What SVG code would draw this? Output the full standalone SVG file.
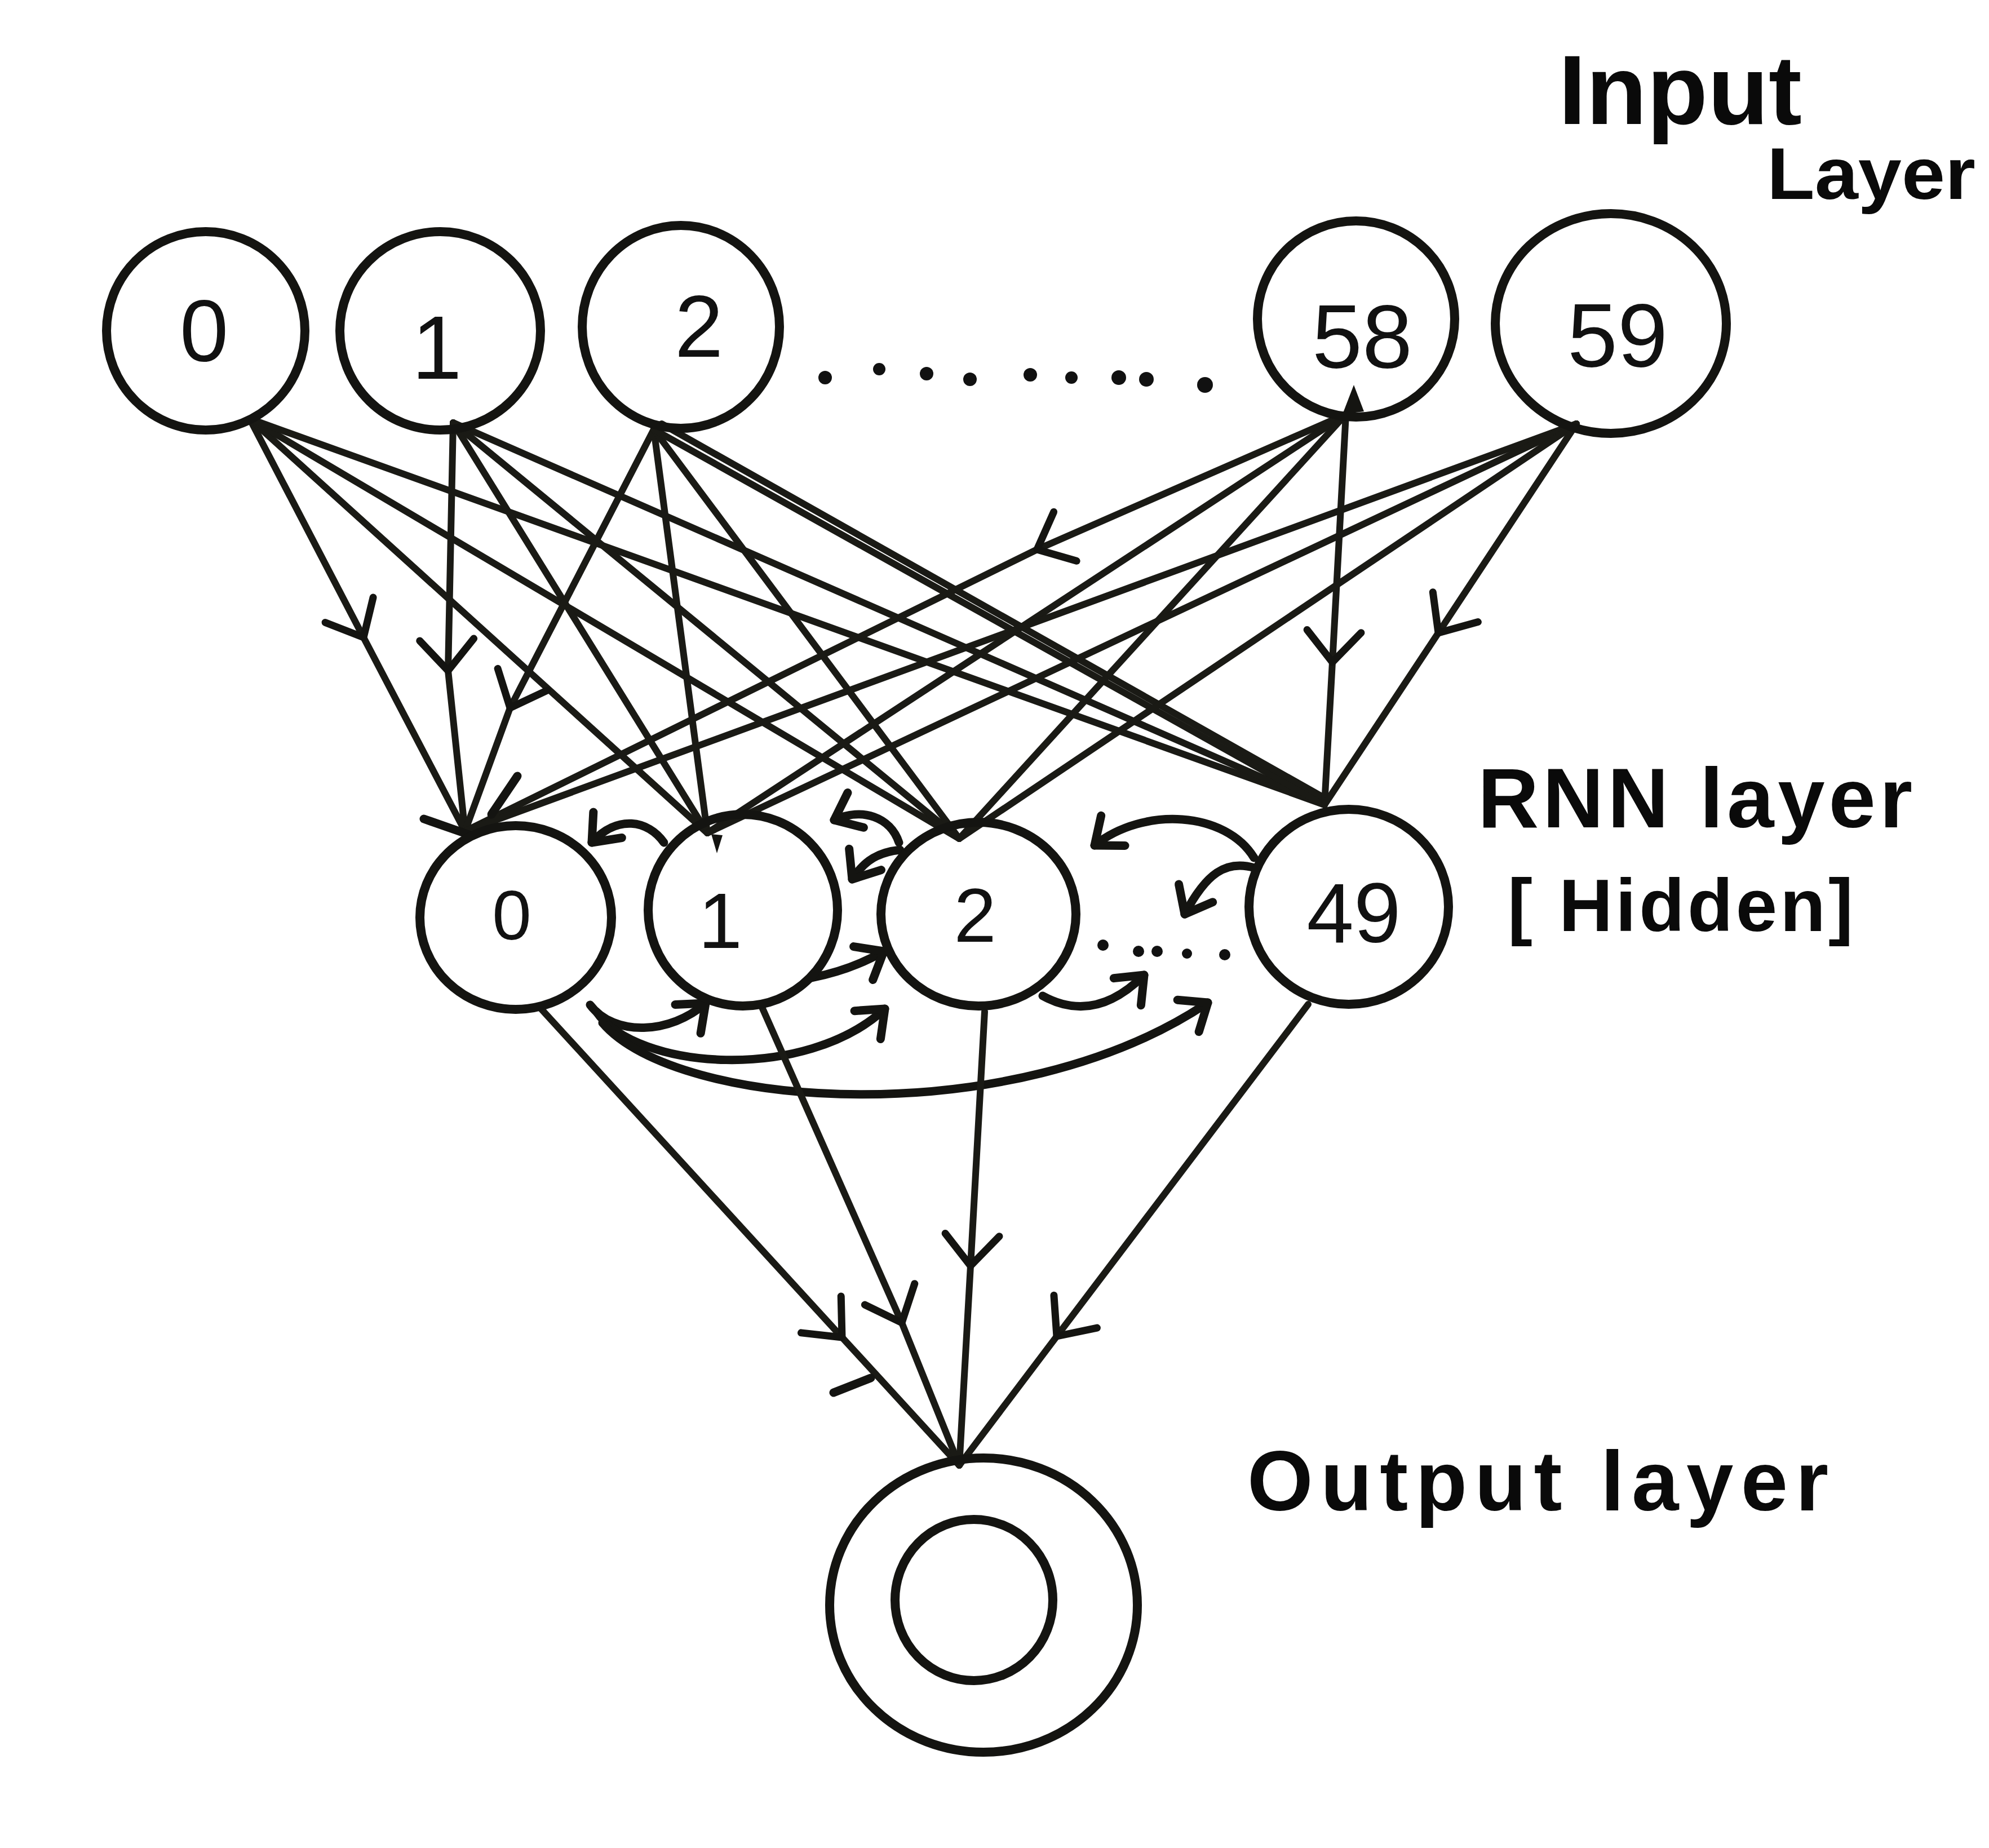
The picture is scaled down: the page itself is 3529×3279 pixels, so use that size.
<svg xmlns="http://www.w3.org/2000/svg" width="3529" height="3279" viewBox="0 0 3529 3279">
<style>
.node{fill:none;stroke:#141411;stroke-width:16}
.ln{fill:none;stroke:#1a1a15;stroke-width:12;stroke-linecap:round;stroke-linejoin:round}
.rec{fill:none;stroke:#141411;stroke-width:15;stroke-linecap:round}
.dig{font-family:"Liberation Sans",Arial,sans-serif;fill:#111;text-anchor:middle}
.lbl{font-family:"Liberation Sans",Arial,sans-serif;fill:#0a0a0a;font-weight:bold}
.dot{fill:#111}
</style>
<defs>
<marker id="chev" markerUnits="userSpaceOnUse" orient="auto" overflow="visible" markerWidth="1" markerHeight="1" refX="0" refY="0">
<path d="M-55,-48 L0,0 L-55,48" fill="none" stroke="#141411" stroke-width="13" stroke-linecap="round" stroke-linejoin="round"/>
</marker>
<marker id="ah" markerUnits="userSpaceOnUse" orient="auto" overflow="visible" markerWidth="1" markerHeight="1" refX="0" refY="0">
<path d="M-42,-34 L0,0 L-42,34" fill="none" stroke="#141411" stroke-width="15" stroke-linecap="round" stroke-linejoin="round"/>
</marker>
</defs>
<rect width="3529" height="3279" fill="#ffffff"/>

<g id="connectors">
<!-- input 0 -->
<polyline class="ln" points="443,743 645,1131 825,1475" marker-mid="url(#chev)"/>
<line class="ln" x1="443" y1="743" x2="1255" y2="1478"/>
<line class="ln" x1="443" y1="743" x2="1702" y2="1488"/>
<line class="ln" x1="443" y1="743" x2="2350" y2="1428"/>
<!-- input 1 -->
<polyline class="ln" points="804,750 795,1190 825,1475" marker-mid="url(#chev)"/>
<line class="ln" x1="804" y1="750" x2="1255" y2="1478"/>
<line class="ln" x1="804" y1="750" x2="1702" y2="1488"/>
<line class="ln" x1="804" y1="750" x2="2350" y2="1428"/>
<!-- input 2 -->
<polyline class="ln" points="1160,762 905,1256 825,1475" marker-mid="url(#chev)"/>
<line class="ln" x1="1160" y1="762" x2="1255" y2="1478"/>
<line class="ln" x1="1160" y1="762" x2="1702" y2="1488"/>
<line class="ln" x1="1160" y1="762" x2="2350" y2="1428"/>
<line class="ln" x1="1174" y1="752" x2="2345" y2="1413"/>
<!-- input 58 -->
<polyline class="ln" points="2388,735 1840,975 825,1475" marker-mid="url(#chev)"/>
<line class="ln" x1="2388" y1="735" x2="1255" y2="1478"/>
<line class="ln" x1="2388" y1="735" x2="1702" y2="1488"/>
<polyline class="ln" points="2388,735 2364,1175 2350,1428" marker-mid="url(#chev)"/>
<path d="M2402,683 L2382,735 L2420,730 Z" fill="#141411"/>
<!-- input 59 -->
<line class="ln" x1="2797" y1="752" x2="825" y2="1475"/>
<line class="ln" x1="2797" y1="752" x2="1255" y2="1478"/>
<line class="ln" x1="2797" y1="752" x2="1702" y2="1488"/>
<polyline class="ln" points="2797,752 2552,1123 2350,1428" marker-mid="url(#chev)"/>
<!-- arrow fragments at hidden 0 / hidden 1 -->
<path class="rec" d="M752,1453 L835,1482"/>
<path class="rec" d="M918,1377 L872,1445"/>
<path d="M1262,1480 L1282,1482 L1272,1514 Z" fill="#141411"/>

<!-- recurrent arrows, top -->
<path class="rec" d="M1178,1495 C1150,1455 1095,1445 1050,1495" marker-end="url(#ah)"/>
<path class="rec" d="M1595,1495 C1580,1450 1530,1432 1480,1455" marker-end="url(#ah)"/>
<path class="rec" d="M1597,1508 C1560,1512 1535,1525 1512,1560" marker-end="url(#ah)"/>
<path class="rec" d="M2225,1522 C2175,1440 2030,1430 1942,1500" marker-end="url(#ah)"/>
<path class="rec" d="M2226,1540 C2175,1525 2140,1550 2102,1622" marker-end="url(#ah)"/>
<!-- recurrent arrows, bottom -->
<path class="rec" d="M1047,1783 C1090,1840 1190,1835 1252,1780" marker-end="url(#ah)"/>
<path class="rec" d="M1058,1795 C1130,1900 1430,1920 1570,1790" marker-end="url(#ah)"/>
<path class="rec" d="M1069,1815 C1200,1970 1800,2010 2143,1779" marker-end="url(#ah)"/>
<path class="rec" d="M1440,1735 C1490,1725 1530,1710 1568,1688" marker-end="url(#ah)"/>
<path class="rec" d="M1850,1767 C1910,1800 1970,1790 2030,1730" marker-end="url(#ah)"/>

<!-- hidden to output -->
<polyline class="ln" points="960,1790 1494,2373 1702,2600" marker-mid="url(#chev)"/>
<polyline class="ln" points="1351,1785 1600,2347 1702,2600" marker-mid="url(#chev)"/>
<polyline class="ln" points="1747,1795 1722,2246 1702,2600" marker-mid="url(#chev)"/>
<polyline class="ln" points="2321,1782 1875,2371 1702,2600" marker-mid="url(#chev)"/>
<path class="rec" d="M1479,2471 L1545,2445"/>
</g>

<g id="input-0"><ellipse class="node" cx="365" cy="587" rx="176" ry="176"/><text class="dig" x="362" y="640" font-size="155">0</text></g>
<g id="input-1"><ellipse class="node" cx="781" cy="587" rx="178" ry="176"/><text class="dig" x="775" y="672" font-size="160">1</text></g>
<g id="input-2"><ellipse class="node" cx="1208" cy="580" rx="175" ry="180"/><text class="dig" x="1240" y="633" font-size="155">2</text></g>
<g id="input-58"><ellipse class="node" cx="2406" cy="566" rx="175" ry="174"/><text class="dig" x="2417" y="652" font-size="160">58</text></g>
<g id="input-59"><ellipse class="node" cx="2858" cy="574" rx="205" ry="195"/><text class="dig" x="2870" y="650" font-size="160">59</text></g>
<g id="input-dots">
<circle class="dot" cx="1464" cy="670" r="12"/><circle class="dot" cx="1560" cy="655" r="11"/><circle class="dot" cx="1644" cy="663" r="12"/><circle class="dot" cx="1721" cy="673" r="12"/><circle class="dot" cx="1828" cy="665" r="12"/><circle class="dot" cx="1901" cy="670" r="11"/><circle class="dot" cx="1985" cy="670" r="13"/><circle class="dot" cx="2034" cy="673" r="13"/><circle class="dot" cx="2138" cy="683" r="14"/>
</g>

<g id="hidden-0"><ellipse class="node" cx="915" cy="1628" rx="170" ry="163"/><text class="dig" x="908" y="1667" font-size="125">0</text></g>
<g id="hidden-1"><ellipse class="node" cx="1318" cy="1615" rx="168" ry="170"/><text class="dig" x="1278" y="1682" font-size="140">1</text></g>
<g id="hidden-2"><ellipse class="node" cx="1736" cy="1622" rx="173" ry="163"/><text class="dig" x="1730" y="1671" font-size="135">2</text></g>
<g id="hidden-49"><ellipse class="node" cx="2393" cy="1609" rx="177" ry="173"/><text class="dig" x="2402" y="1672" font-size="150">49</text></g>
<g id="hidden-dots">
<circle class="dot" cx="1957" cy="1677" r="10"/><circle class="dot" cx="2020" cy="1688" r="10"/><circle class="dot" cx="2053" cy="1688" r="10"/><circle class="dot" cx="2106" cy="1692" r="9"/><circle class="dot" cx="2173" cy="1694" r="10"/>
</g>

<g id="output"><ellipse class="node" cx="1745" cy="2848" rx="273" ry="261"/><ellipse class="node" cx="1728" cy="2839" rx="140" ry="143"/></g>

<g id="labels">
<text class="lbl" x="2765" y="220" font-size="175" textLength="432" lengthAdjust="spacingAndGlyphs">Input</text>
<text class="lbl" x="3135" y="353" font-size="130" textLength="370" lengthAdjust="spacingAndGlyphs">Layer</text>
<text class="lbl" x="2622" y="1468" font-size="150" textLength="771" lengthAdjust="spacing">RNN layer</text>
<text class="lbl" x="2675" y="1652" font-size="132" textLength="613" lengthAdjust="spacing">[ Hidden]</text>
<text class="lbl" x="2213" y="2680" font-size="150" textLength="1031" lengthAdjust="spacing">Output layer</text>
</g>
</svg>
